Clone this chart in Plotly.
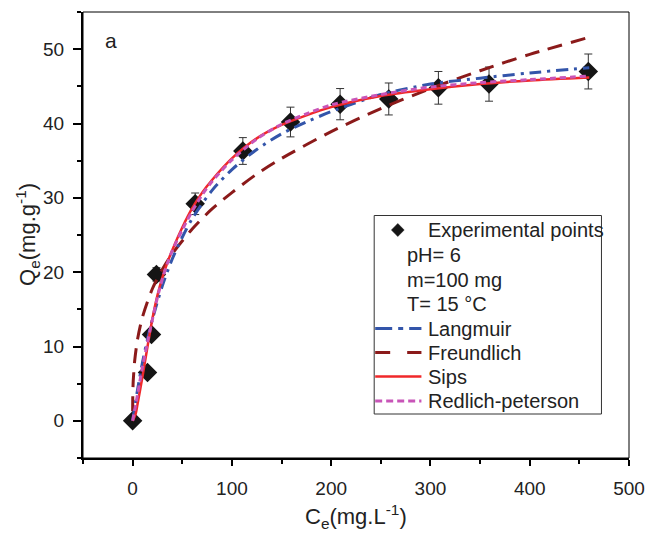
import plotly.graph_objects as go

# ---------------- data ----------------
ce_exp = [0, 15, 19, 24, 63, 111, 159, 209, 258, 308, 359, 459]
qe_exp = [0, 6.5, 11.6, 19.7, 29.2, 36.3, 40.2, 42.6, 43.3, 44.8, 45.3, 47.0]
qe_err = [0, 0, 0, 0.9, 1.45, 1.8, 2.0, 2.1, 2.15, 2.2, 2.3, 2.35]

lang_c = [0, 5, 10, 15, 20, 30, 40, 50, 60, 80, 100, 125, 150, 175, 200, 250, 300, 350, 400, 460]
lang_q = [0, 4.2, 7.9, 11.0, 13.7, 18.2, 21.8, 24.7, 27.2, 31.0, 33.8, 36.5, 38.6, 40.2, 41.6, 43.9, 45.3, 46.1, 46.8, 47.5]

freu_c = [0.01, 0.1, 0.5, 1, 2, 5, 10, 20, 30, 40, 60, 80, 100, 125, 150, 200, 250, 300, 350, 400, 460]
freu_q = [1.3, 2.9, 5.1, 6.2, 8.0, 11.0, 14.0, 17.8, 20.4, 22.5, 25.8, 28.5, 30.7, 33.2, 35.3, 38.9, 42.0, 44.7, 47.1, 49.3, 51.6]

sips_c = [0, 3, 5, 10, 15, 20, 25, 30, 35, 40, 50, 60, 70, 80, 100, 125, 150, 175, 200, 250, 300, 350, 400, 460]
sips_q = [0, 0.9, 2.3, 6.0, 10.0, 13.8, 16.9, 19.3, 21.3, 23.0, 26.0, 28.6, 30.7, 32.4, 35.3, 38.0, 39.8, 41.1, 42.2, 43.7, 44.6, 45.3, 45.8, 46.2]

rp_c = [0, 3, 5, 10, 15, 20, 25, 30, 35, 40, 50, 60, 70, 80, 100, 125, 150, 175, 200, 250, 300, 350, 400, 460]
rp_q = [0, 2.1, 3.6, 7.3, 10.6, 13.7, 16.6, 19.1, 21.2, 22.9, 25.7, 28.2, 30.4, 32.2, 35.1, 37.9, 39.9, 41.3, 42.5, 43.9, 44.9, 45.5, 45.9, 46.4]

x_ticks = [0, 100, 200, 300, 400, 500]
y_ticks = [0, 10, 20, 30, 40, 50]

legend_labels = ["Experimental points", "pH= 6", "m=100 mg", "T= 15 °C",
                 "Langmuir", "Freundlich", "Sips", "Redlich-peterson"]

# ---------------- style ----------------
W, H = 657, 533
ML, MR, MT, MB = 83, 19, 12, 75
PW, PH = W - ML - MR, H - MT - MB
FONT = "Liberation Sans, Arial, sans-serif"
TXT = "#222222"
C_LANG = "#3355aa"
C_FREU = "#8b1a1a"
C_SIPS = "#f0282a"
C_RP = "#c855b8"


def px(x):
    return (x - ML) / PW


def py(y):
    return (H - MB - y) / PH


fig = go.Figure()

fig.add_trace(go.Scatter(
    x=ce_exp, y=qe_exp, mode="markers", name=legend_labels[0],
    marker=dict(symbol="diamond", size=15, color="#151515"),
    error_y=dict(type="data", array=qe_err, visible=True, color="#333333",
                 thickness=1, width=4),
    showlegend=False))

fig.add_trace(go.Scatter(
    x=freu_c, y=freu_q, mode="lines", name=legend_labels[5],
    line=dict(color=C_FREU, width=3, dash="15px,9px", shape="spline", smoothing=0.8),
    showlegend=False))

fig.add_trace(go.Scatter(
    x=lang_c, y=lang_q, mode="lines", name=legend_labels[4],
    line=dict(color=C_LANG, width=3, dash="12px,6px,3px,6px", shape="spline", smoothing=0.8),
    showlegend=False))

fig.add_trace(go.Scatter(
    x=sips_c, y=sips_q, mode="lines", name=legend_labels[6],
    line=dict(color=C_SIPS, width=2.5, shape="spline", smoothing=0.8),
    showlegend=False))

fig.add_trace(go.Scatter(
    x=rp_c, y=rp_q, mode="lines", name=legend_labels[7],
    line=dict(color=C_RP, width=3, dash="6px,4px", shape="spline", smoothing=0.8),
    showlegend=False))

axis_common = dict(
    showline=True, linewidth=2, linecolor="black", mirror=False,
    ticks="outside", tickwidth=2, tickcolor="black",
    showgrid=False, zeroline=False,
    tickfont=dict(family=FONT, size=19, color=TXT),
)

fig.update_xaxes(range=[-50, 500], tickvals=x_ticks, ticklen=6,
                 minor=dict(dtick=50, tick0=0, ticks="outside", ticklen=4, tickwidth=2, tickcolor="black"),
                 ticklabelstandoff=6, **axis_common)
fig.update_yaxes(range=[-5, 55], tickvals=y_ticks, ticklen=8,
                 minor=dict(dtick=5, tick0=0, ticks="outside", ticklen=4, tickwidth=2, tickcolor="black"),
                 ticklabelstandoff=5, **axis_common)

shapes = []
# thin frame on top/right
shapes.append(dict(type="rect", xref="paper", yref="paper", x0=0, x1=1, y0=0, y1=1,
                   line=dict(color="black", width=1)))
# legend box
shapes.append(dict(type="rect", xref="paper", yref="paper",
                   x0=px(379), x1=px(610), y0=py(414), y1=py(215.5),
                   line=dict(color="#333333", width=1), fillcolor="white"))
# diamond sample
dx, dy, r = 403, 230, 6.5
shapes.append(dict(type="path", xref="paper", yref="paper",
                   path=f"M {px(dx)},{py(dy - r)} L {px(dx + r)},{py(dy)} L {px(dx)},{py(dy + r)} L {px(dx - r)},{py(dy)} Z",
                   fillcolor="#151515", line=dict(color="#151515", width=0.5)))

rows = [230, 254.5, 279.5, 304, 328.5, 352.5, 376.5, 401]
samples = [(4, C_LANG, 3, "17px,6px,5px,6px"),
           (5, C_FREU, 3, "15px,17px"),
           (6, C_SIPS, 2.5, "solid"),
           (7, C_RP, 3, "7px,4px")]
for idx, col, wdt, dsh in samples:
    shapes.append(dict(type="line", xref="paper", yref="paper",
                       x0=px(380), x1=px(427), y0=py(rows[idx]), y1=py(rows[idx]),
                       line=dict(color=col, width=wdt, dash=dsh)))

annotations = []
for i, lab in enumerate(legend_labels):
    xl = 410 if i in (1, 2, 3) else 432
    annotations.append(dict(text=lab, xref="paper", yref="paper", x=px(xl), y=py(rows[i]),
                            xanchor="left", yanchor="middle", showarrow=False,
                            font=dict(family=FONT, size=20, color=TXT)))

annotations.append(dict(text="a", xref="paper", yref="paper", x=px(111), y=py(41),
                        xanchor="center", yanchor="middle", showarrow=False,
                        font=dict(family=FONT, size=21, color=TXT)))
annotations.append(dict(text="C<sub>e</sub>(mg.L<sup>-1</sup>)", xref="paper", yref="paper",
                        x=0.5, y=py(516), xanchor="center", yanchor="middle", showarrow=False,
                        font=dict(family=FONT, size=22, color=TXT)))
annotations.append(dict(text="Q<sub>e</sub>(mg.g<sup>-1</sup>)", xref="paper", yref="paper",
                        x=px(26), y=py(234), xanchor="center", yanchor="middle", showarrow=False,
                        textangle=-90, font=dict(family=FONT, size=22, color=TXT)))

fig.update_layout(
    width=W, height=H, autosize=False,
    margin=dict(l=ML, r=MR, t=MT, b=MB),
    paper_bgcolor="white", plot_bgcolor="white",
    showlegend=False, shapes=shapes, annotations=annotations,
)

fig.write_html("out.html", config={"displayModeBar": False},
               post_script="document.body.style.margin='0px';")
